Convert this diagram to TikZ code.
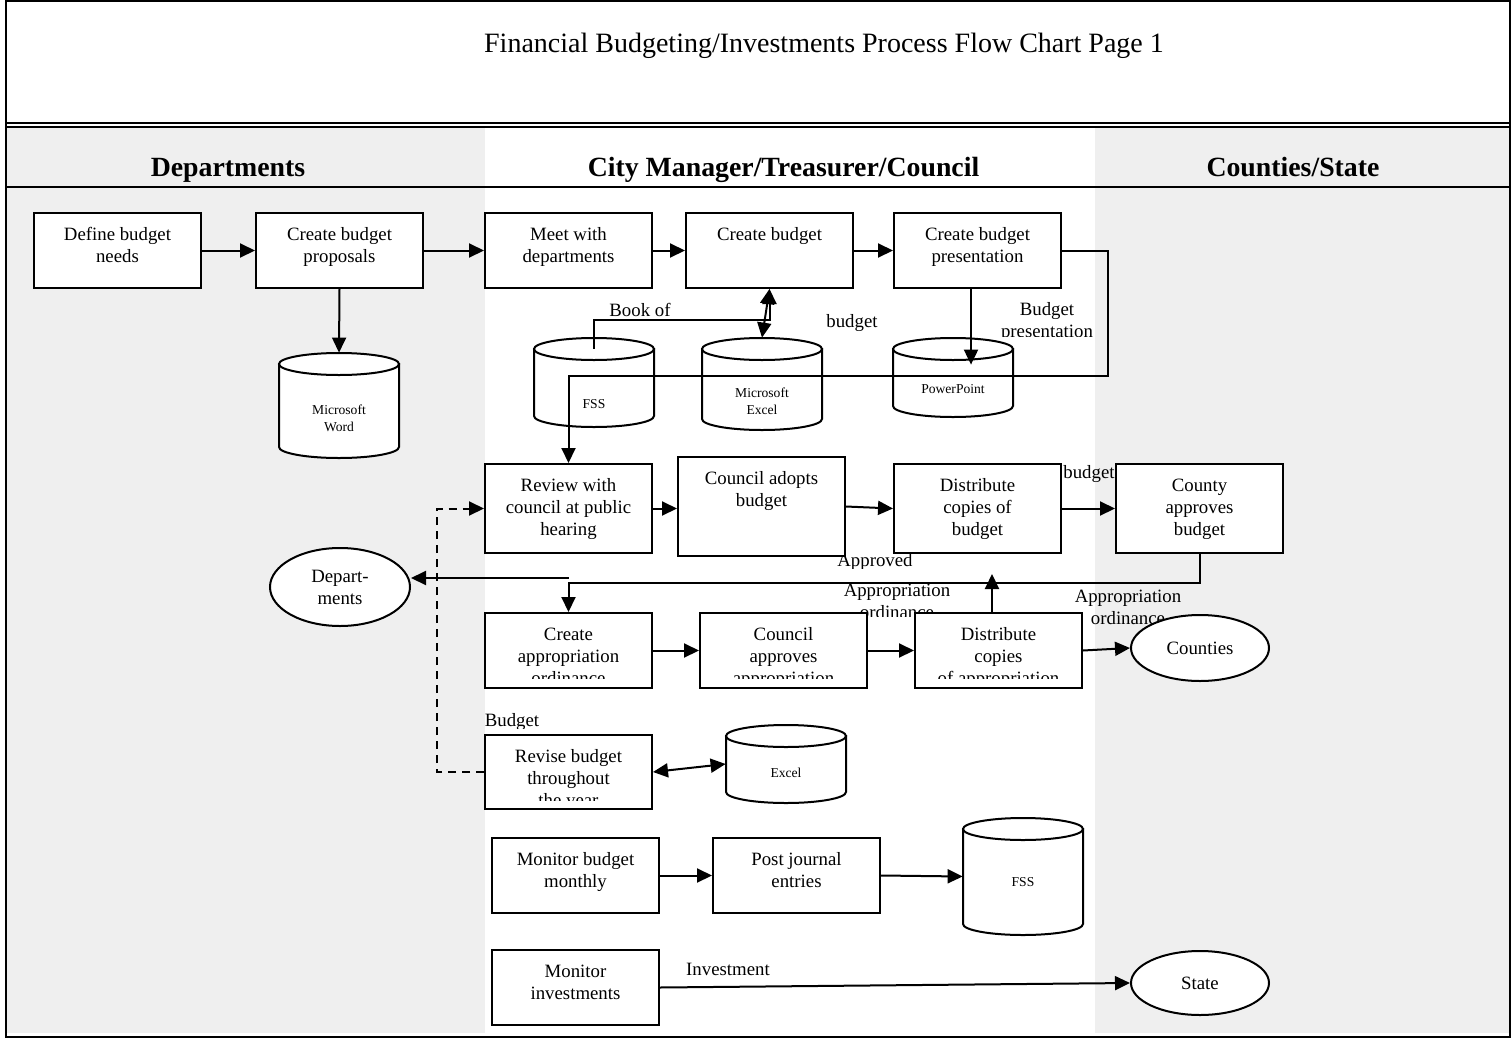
\documentclass[tikz,border=0pt]{standalone}
\usepackage{fontspec}
\setmainfont{Liberation Serif}
\usetikzlibrary{arrows.meta,shapes.geometric,calc}
\newcommand{\bxf}{\fontsize{9.4}{11}\selectfont}
\newcommand{\smf}{\fontsize{6.8}{8.5}\selectfont}
\definecolor{lanegray}{HTML}{EFEFEF}
\tikzset{
 box/.style={draw, fill=white, line width=1pt, inner sep=0pt},
 txt/.style={align=center, inner sep=0pt, font=\bxf},
 lbl/.style={inner sep=0pt, font=\bxf, align=center},
 small/.style={align=center, inner sep=0pt, font=\smf},
 oval/.style={ellipse, draw, fill=white, line width=1pt, inner sep=0pt, align=center, font=\bxf},
 arr/.style={line width=1pt, -{Triangle[length=7.5pt,width=7pt]}},
 arrtwo/.style={line width=1pt, {Triangle[length=7.5pt,width=7pt]}-{Triangle[length=7.5pt,width=7pt]}},
 dasharr/.style={arr, dash pattern=on 4pt off 3pt},
 ln/.style={line width=1pt},
}
\newcommand{\pbox}[6]{%
 \node[box, minimum width={(#4-#2)*0.5pt}, minimum height={(#5-#3)*0.5pt}] (#1) at ({(#2+#4)/2},{(#3+#5)/2}) {};
 \node[txt, anchor=north] (#1-t) at ([yshift=-6.4pt]#1.north) {\strut #6};}
\newcommand{\pboxc}[7]{%
 \node[box, minimum width={(#4-#2)*0.5pt}, minimum height={(#5-#3)*0.5pt}] (#1) at ({(#2+#4)/2},{(#3+#5)/2}) {};
 \begin{scope}
 \clip (#2,#3) rectangle (#4,#6);
 \node[txt, anchor=north] (#1-t) at ([yshift=-6.4pt]#1.north) {\strut #7};
 \end{scope}}
\newcommand{\dbcyl}[4]{%
 \path[draw, fill=white, line width=1pt] (#2-60,#3+11) -- (#2-60,#4-11) arc[start angle=180, end angle=360, x radius=30pt, y radius=5.5pt] -- (#2+60,#3+11) -- cycle;
 \draw[fill=white, line width=1pt] (#2,#3+11) ellipse[x radius=30pt, y radius=5.5pt];
 \node[inner sep=0pt, minimum width=60pt, minimum height={(#4-#3)*0.5pt}] (#1) at (#2,{(#3+#4)/2}) {};}
\begin{document}
\begin{tikzpicture}[x=0.5pt,y=-0.5pt]
\useasboundingbox (0,0) rectangle (1511,1039);
% lanes
\fill[lanegray] (7,127) rectangle (485,1033);
\fill[lanegray] (1095,127) rectangle (1509,1033);
% frame
\draw[line width=1.2pt] (6,1) rectangle (1510,1037);
\draw[ln] (6,122.5) -- (1510,122.5);
\draw[line width=1.2pt] (6,127) -- (1510,127);
\draw[ln] (6,187) -- (1510,187);
% title and headers
\node[font=\fontsize{14}{16}\selectfont, anchor=base, inner sep=0pt] (title) at (824,52) {Financial Budgeting/Investments Process Flow Chart Page 1};
\node[font=\fontsize{13.9}{16}\selectfont\bfseries, anchor=base, inner sep=0pt] (hdep) at (228,176) {Departments};
\node[font=\fontsize{13.9}{16}\selectfont\bfseries, anchor=base, inner sep=0pt] (hcity) at (783.5,176) {City Manager/Treasurer/Council};
\node[font=\fontsize{13.9}{16}\selectfont\bfseries, anchor=base, inner sep=0pt] (hcs) at (1293,176) {Counties/State};
% labels
\node[lbl, anchor=base] (lbook) at (640,316) {Book of};
\node[lbl, anchor=base] (lbud) at (852,327) {budget};
\begin{scope}
\clip (985,290) rectangle (1110,336);
\node[lbl, anchor=north] (lbp) at (1047,300) {\strut Budget\\presentation};
\end{scope}
\node[lbl, anchor=base] (lbud2) at (1089,478) {budget};
\begin{scope}
\clip (830,550) rectangle (930,568);
\node[lbl, anchor=base] (lapp) at (875,566) {Approved};
\end{scope}
\begin{scope}
\clip (830,575) rectangle (960,616);
\node[lbl, anchor=north] (lao1) at (897,580.5) {\strut Appropriation\\ordinance};
\end{scope}
\node[lbl, anchor=north] (lao2) at (1128,586.5) {\strut Appropriation\\ordinance};
\begin{scope}
\clip (470,700) rectangle (560,728);
\node[lbl, anchor=base] (lbg) at (512,726) {Budget};
\end{scope}
\node[lbl, anchor=base] (linv) at (728,975) {Investment};
% boxes
\pbox{def}{34}{213}{201}{288}{Define budget\\needs}
\pbox{prop}{256}{213}{423}{288}{Create budget\\proposals}
\pbox{meet}{485}{213}{652}{288}{Meet with\\departments}
\pbox{cb}{686}{213}{853}{288}{Create budget}
\pbox{pres}{894}{213}{1061}{288}{Create budget\\presentation}
\pbox{rev}{485}{464}{652}{553}{Review with\\council at public\\hearing}
\pbox{cad}{678}{457}{845}{556}{Council adopts\\budget}
\pbox{dis}{894}{464}{1061}{553}{Distribute\\copies of\\budget}
\pbox{cty}{1116}{464}{1283}{553}{County\\approves\\budget}
\pboxc{cao}{485}{613}{652}{688}{678}{Create\\appropriation\\ordinance}
\pboxc{cap}{700}{613}{867}{688}{678}{Council\\approves\\appropriation}
\pboxc{dca}{915}{613}{1082}{688}{678}{Distribute\\copies\\of appropriation}
\pboxc{rvs}{485}{735}{652}{809}{800}{Revise budget\\throughout\\the year}
\pbox{mb}{492}{838}{659}{913}{Monitor budget\\monthly}
\pbox{pj}{713}{838}{880}{913}{Post journal\\entries}
\pbox{mi}{492}{950}{659}{1025}{Monitor\\investments}
% cylinders
\dbcyl{word}{339}{353}{458}
\dbcyl{fssa}{594}{338}{427}
\dbcyl{xla}{762}{338}{430}
\dbcyl{ppt}{953}{338}{417}
\dbcyl{xlb}{786}{725}{803}
\dbcyl{fssb}{1023}{818}{935}
\node[small] (word-t) at (339,418.5) {Microsoft\\Word};
\node[small] (fssa-t) at (594,404) {FSS};
\node[small] (xla-t) at (762,401) {Microsoft\\Excel};
\node[small] (ppt-t) at (953,389) {PowerPoint};
\node[small] (xlb-t) at (786,773) {Excel};
\node[small] (fssb-t) at (1023,882) {FSS};
% ellipses
\node[oval, minimum width=70pt, minimum height=39pt] (dep) at (340,587) {Depart-\\ments};
\node[oval, minimum width=69pt, minimum height=33pt] (cnt) at (1200,648) {Counties};
\node[oval, minimum width=69pt, minimum height=32pt] (st) at (1200,983) {State};
% connectors
\draw[arr] (def.east) -- (prop.west);
\draw[arr] (prop.east) -- (meet.west);
\draw[arr] (meet.east) -- (cb.west);
\draw[arr] (cb.east) -- (pres.west);
\draw[arr] (prop.south) -- (word.north);
\draw[arr] ([xshift=-3.25pt]pres.south) -- ([xshift=-3.25pt,yshift=-13.5pt]pres.south |- ppt.north);
\coordinate (loopR) at (1108,376);
\draw[arr] (pres.east) -| (loopR) -| (rev.north);
\coordinate (bookC) at (769.5,320);
\draw[arr] ([yshift=-5.5pt]fssa.north) |- (bookC) -- (cb.south);
\draw[arrtwo] (cb.south) -- (xla.north);
\draw[arr] (rev.east) -- (rev.east -| cad.west);
\draw[arr] (cad.east) -- (dis.west);
\draw[arr] (dis.east) -- (cty.west);
\draw[arr] (cty.south) |- ($(cao.north)+(0,-29)$) -- (cao.north);
\draw[arr] ([yshift=-12pt]rev.south) -- ([yshift=-12pt]rev.south -| dep.east);
\draw[arr] (cao.east) -- (cap.west);
\draw[arr] (cap.east) -- (dca.west);
\draw[arr] ([xshift=-3.25pt]dca.north) -- ++(0,-38);
\draw[arr] (dca.east) -- (cnt.west);
\draw[dasharr] (rvs.west) -- ++(-47,0) |- (rev.west);
\draw[arrtwo] (rvs.east) -- (xlb.west);
\draw[arr] (mb.east) -- (pj.west);
\draw[arr] (pj.east) -- (fssb.west);
\draw[arr] (mi.east) -- (st.west);
\end{tikzpicture}
\end{document}
